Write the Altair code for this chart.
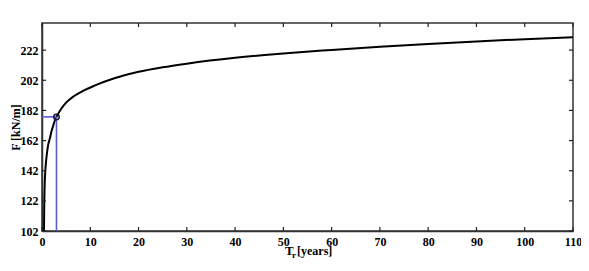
import altair as alt
import pandas as pd

# Curve values
T_years = [0.41, 0.45, 0.48, 0.55, 0.69, 0.85, 1.1, 1.3, 1.58, 2.0, 2.27, 2.5, 3.0, 4.0, 5.0, 6.5, 8.5,
           11.0, 15.0, 20.0, 25.0, 30.0, 40.0, 50.0, 60.0, 70.0, 80.0, 90.0, 100.0, 110.0]
F_kNm = [102.0, 114.0, 122.0, 132.0, 142.0, 148.5, 155.5, 159.5, 162.8, 168.5, 171.3, 173.8, 177.7, 183.2, 187.2,
         191.2, 195.0, 198.6, 203.3, 207.6, 210.6, 213.0, 216.9, 219.8, 222.1, 224.2, 226.1, 227.8, 229.3, 230.6]

# Highlighted design point
T_design = [3.0]
F_design = [177.7]

y_ticks = [102, 122, 142, 162, 182, 202, 222]
x_ticks = [0, 10, 20, 30, 40, 50, 60, 70, 80, 90, 100, 110]

curve = pd.DataFrame({"T": T_years, "F": F_kNm})
pt = pd.DataFrame({"T": T_design, "F": F_design, "T0": [0.0], "F0": [102.0]})
xt = pd.DataFrame({"x": x_ticks})
yt = pd.DataFrame({"y": y_ticks})

W, H = 531, 208
FONT = "Liberation Serif"
TK = 4

xs = alt.Scale(domain=[0, 110], nice=False)
ys = alt.Scale(domain=[102, 240], nice=False)

xax = alt.Axis(values=x_ticks, title=None, tickSize=0, labelPadding=5,
               labelFont=FONT, labelFontSize=12, labelFontWeight="bold",
               labelColor="black", domainColor="#333", domainWidth=1.5,
               grid=False, labelFlush=False, labelOverlap=False)
yax = alt.Axis(values=y_ticks, title="F [kN/m]", tickSize=0, labelPadding=4,
               labelFont=FONT, labelFontSize=12, labelFontWeight="bold",
               labelColor="black", domainColor="#333", domainWidth=1.5,
               titleFont=FONT, titleFontSize=12, titleFontWeight="bold",
               titleColor="black", titleX=-20, titleY=H / 2,
               titleAngle=270, titleAlign="center", titleBaseline="bottom",
               grid=False, labelFlush=False, labelOverlap=False)

line = alt.Chart(curve).mark_line(color="black", strokeWidth=2, interpolate="monotone", clip=True).encode(
    x=alt.X("T:Q", scale=xs, axis=xax),
    y=alt.Y("F:Q", scale=ys, axis=yax),
)

tick_style = dict(color="#222", strokeWidth=1.2)
tb = alt.Chart(xt).mark_rule(**tick_style).encode(x=alt.X("x:Q", scale=xs, axis=xax), y=alt.value(H), y2=alt.value(H - TK))
tt = alt.Chart(xt).mark_rule(**tick_style).encode(x=alt.X("x:Q", scale=xs, axis=xax), y=alt.value(0), y2=alt.value(TK))
tl = alt.Chart(yt).mark_rule(**tick_style).encode(y=alt.Y("y:Q", scale=ys, axis=yax), x=alt.value(0), x2=alt.value(TK))
tr = alt.Chart(yt).mark_rule(**tick_style).encode(y=alt.Y("y:Q", scale=ys, axis=yax), x=alt.value(W), x2=alt.value(W - TK))

vline = alt.Chart(pt).mark_rule(color="#5b5bd6", strokeWidth=1.6).encode(
    x=alt.X("T:Q", scale=xs, axis=xax), y=alt.Y("F0:Q", scale=ys, axis=yax), y2="F:Q")
hline = alt.Chart(pt).mark_rule(color="#5b5bd6", strokeWidth=1.6).encode(
    x=alt.X("T0:Q", scale=xs, axis=xax), x2="T:Q", y=alt.Y("F:Q", scale=ys, axis=yax))
marker = alt.Chart(pt).mark_point(shape="circle", size=30, filled=False, stroke="#1a1a3a",
                                  strokeWidth=1.5, opacity=1).encode(
    x=alt.X("T:Q", scale=xs, axis=xax), y=alt.Y("F:Q", scale=ys, axis=yax))

t1 = alt.Chart(pt).mark_text(text="T", font=FONT, fontSize=13, fontWeight="bold", align="left",
                             baseline="alphabetic", color="black").encode(
    x=alt.value(243), y=alt.value(232))
t2 = alt.Chart(pt).mark_text(text="r", font=FONT, fontSize=9, fontWeight="bold", align="left",
                             baseline="alphabetic", color="black").encode(
    x=alt.value(250), y=alt.value(235))
t3 = alt.Chart(pt).mark_text(text="[years]", font=FONT, fontSize=12, fontWeight="bold", align="left",
                             baseline="alphabetic", color="black").encode(
    x=alt.value(255), y=alt.value(232))

chart = alt.layer(line, tb, tt, tl, tr, vline, hline, marker, t1, t2, t3).properties(
    width=W, height=H, background="white",
    autosize=alt.AutoSizeParams(type="none"),
    padding={"left": 34, "top": 15, "right": 8, "bottom": 36},
).configure_view(stroke="#333", strokeWidth=1.5)

chart.save("out.html", embed_options={"renderer": "svg", "actions": False})
